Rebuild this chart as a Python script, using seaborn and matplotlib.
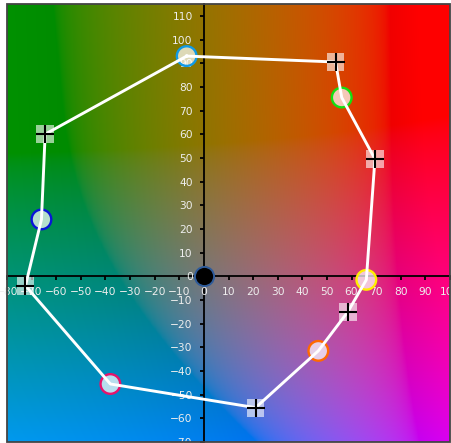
import numpy as np
import pandas as pd
import matplotlib
matplotlib.use("Agg")
import matplotlib.pyplot as plt
from matplotlib.patches import Rectangle
import seaborn as sns

# measured samples (a*, b*)
circle_a = [-7, 56, 66, 46.5, -38, -66]
circle_b = [93, 75.5, -1.5, -31.5, -45.5, 24]
circle_edge = ["#0f9ae6", "#12e012", "#ffee00", "#ff6a00", "#e6136b", "#0a14d8"]

target_a = [53.5, 69.5, 58.5, 21, -72.5, -64.5]
target_b = [90.5, 49.5, -15, -55.5, -4, 60]

# loop order of the white outline
loop_a = [-7, 53.5, 56, 69.5, 66, 58.5, 46.5, 21, -38, -72.5, -66, -64.5, -7]
loop_b = [93, 90.5, 75.5, 49.5, -1.5, -15, -31.5, -55.5, -45.5, -4, 24, 60, 93]

x_ticks = list(range(-80, 101, 10))
y_ticks = list(range(-70, 111, 10))


def lab_to_srgb(L, a, b):
    fy = (L + 16) / 116
    fx = fy + a / 500
    fz = fy - b / 200
    d = 6 / 29

    def finv(t):
        return np.where(t > d, t ** 3, 3 * d * d * (t - 4 / 29))

    X = 0.95047 * finv(fx)
    Y = 1.0 * finv(fy)
    Z = 1.08883 * finv(fz)
    r = 3.2406 * X - 1.5372 * Y - 0.4986 * Z
    g = -0.9689 * X + 1.8758 * Y + 0.0415 * Z
    bb = 0.0557 * X - 0.2040 * Y + 1.0570 * Z
    rgb = np.stack([r, g, bb], axis=-1)
    rgb = np.clip(rgb, 0, 1)
    rgb = np.where(rgb > 0.0031308, 1.055 * rgb ** (1 / 2.4) - 0.055, 12.92 * rgb)
    return np.clip(rgb, 0, 1)


# a*b* plane background at L* = 50
aa, bb = np.meshgrid(np.linspace(-80, 100, 360), np.linspace(-70, 115, 370))
bg = lab_to_srgb(50.0, aa, bb)

fig = plt.figure(figsize=(4.51, 4.43), dpi=100)
ax = fig.add_axes([7 / 451, 1 / 443, 443 / 451, 438 / 443])
ax.imshow(bg, extent=(-80, 100, -70, 115), origin="lower", aspect="auto", zorder=0)

df_loop = pd.DataFrame({"a": loop_a, "b": loop_b})
sns.lineplot(data=df_loop, x="a", y="b", sort=False, estimator=None,
             color="white", linewidth=2.1, ax=ax, zorder=3)

df_t = pd.DataFrame({"a": target_a, "b": target_b})
sns.scatterplot(data=df_t, x="a", y="b", marker="s", s=165,
                facecolor=(1, 1, 1, 0.6), edgecolor="none", linewidth=0, ax=ax, zorder=2)
sns.scatterplot(data=df_t, x="a", y="b", marker="+", s=170,
                color="black", linewidth=1.5, ax=ax, zorder=4)

df_c = pd.DataFrame({"a": circle_a, "b": circle_b})
sns.scatterplot(data=df_c, x="a", y="b", marker="o", s=200,
                facecolor=[(1, 1, 1, 0.72)] * len(circle_a), edgecolor=circle_edge,
                linewidth=1.7, ax=ax, zorder=2)

sns.scatterplot(x=[0], y=[0], marker="o", s=190, facecolor="black",
                edgecolor="#2e5b9a", linewidth=1.4, ax=ax, zorder=4)

ax.set_xlim(-80, 100)
ax.set_ylim(-70, 115)
ax.set_xticks(x_ticks)
ax.set_yticks(y_ticks)
ax.set_xlabel("")
ax.set_ylabel("")

for side in ["top", "right"]:
    ax.spines[side].set_visible(False)
for side in ["left", "bottom"]:
    ax.spines[side].set_position(("data", 0))
    ax.spines[side].set_color("black")
    ax.spines[side].set_linewidth(1.3)
    ax.spines[side].set_zorder(1)

ax.tick_params(axis="both", direction="out", length=3, width=1.3, color="black",
               labelsize=7.7, labelcolor="#eeeeee", pad=5)

frame = Rectangle((0, 0), 1, 1, transform=ax.transAxes, fill=False,
                  edgecolor="#444444", linewidth=1.3, clip_on=False, zorder=6)
ax.add_patch(frame)

fig.savefig("out.png", dpi=100)
